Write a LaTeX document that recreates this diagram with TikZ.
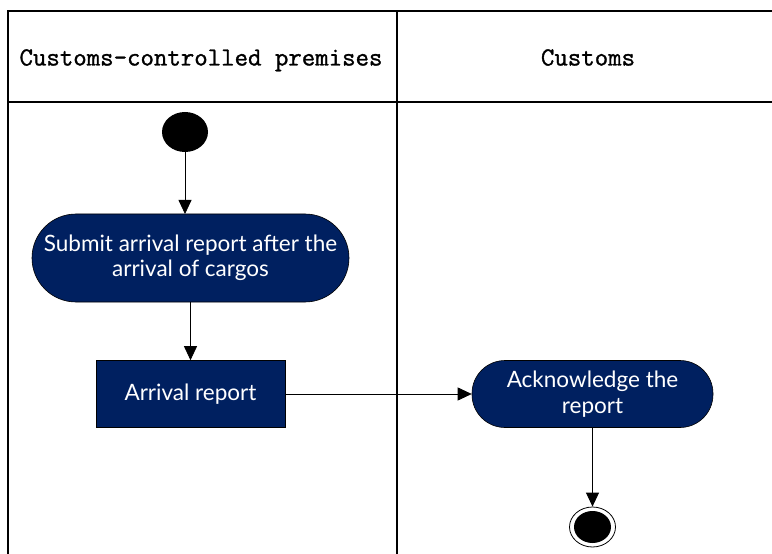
\documentclass[tikz,border=0pt]{standalone}
\usepackage{fontspec}
\setmainfont{Lato}
\newfontfamily\lanefont{Latin Modern Mono}[RawFeature={embolden=1.2}]
\usetikzlibrary{arrows.meta,shapes.geometric}
\definecolor{navy}{RGB}{0,32,96}
\tikzset{
  lane/.style={line width=1.6bp, black},
  lanetitle/.style={font=\lanefont\fontsize{26.2}{28}\selectfont, anchor=base},
  action/.style={draw=black, line width=0.6bp, fill=navy, text=white, align=center,
    font=\fontsize{22.6}{25.5}\selectfont, inner sep=0pt},
  flow/.style={line width=0.8bp, -{Triangle[length=14bp,width=13bp]}},
  startdot/.style={ellipse, fill=black, minimum width=46bp, minimum height=40bp, inner sep=0pt},
}
\begin{document}
\begin{tikzpicture}[x=1bp,y=-1bp]
\useasboundingbox (0,0) rectangle (772,554);
\clip (0,0) rectangle (772,554);
\fill[white] (0,0) rectangle (772,554);

% swimlanes
\draw[lane] (8,560) -- (8,11) -- (790,11);
\draw[lane] (8,102) -- (790,102);
\draw[lane] (397,11) -- (397,560);

\node[lanetitle] (laneA) at (201,65.5) {Customs-controlled premises};
\node[lanetitle] (laneB) at (588,65.5) {Customs};

% activity flow
\node[startdot] (start) at (185,132) {};
\node[action, rounded corners=44bp, minimum width=317bp, minimum height=88bp] (submit) at (190.5,258)
  {Submit arrival report after the\\arrival of cargos};
\node[action, minimum width=189bp, minimum height=67bp] (report) at (190.5,394) {Arrival report};
\node[action, rounded corners=33bp, minimum width=241bp, minimum height=67bp] (ack) at (592.5,394)
  {Acknowledge the\\report};
\node[ellipse, draw=black, line width=0.8bp, minimum width=46bp, minimum height=40bp, inner sep=0pt] (stop) at (592.5,527) {};
\node[ellipse, fill=black, minimum width=37bp, minimum height=32bp, inner sep=0pt] (stopdot) at (stop.center) {};

\coordinate (submitTop) at (185,214);
\draw[flow] (start) -- (submitTop);
\draw[flow] (submit) -- (report);
\draw[flow] (report) -- (ack);
\draw[flow] (ack) -- (stop);
\end{tikzpicture}
\end{document}
